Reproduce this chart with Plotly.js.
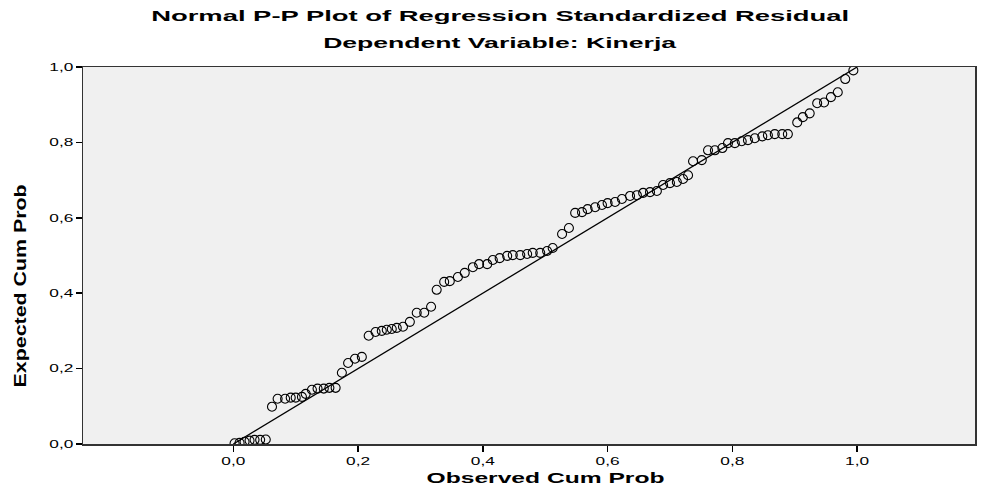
<!DOCTYPE html>
<html>
<head>
<meta charset="utf-8">
<script src="https://cdn.plot.ly/plotly-3.0.1.min.js"></script>
<style>html,body{margin:0;padding:0;background:#fff;}#chart{width:995px;height:488px;}</style>
</head>
<body>
<div id="chart"></div>
<script>
const titleLine1 = "Normal P-P Plot of Regression Standardized Residual";
const titleLine2 = "Dependent Variable: Kinerja";
const xTitle = "Observed Cum Prob";
const yTitle = "Expected Cum Prob";
const tickValues = [0, 0.2, 0.4, 0.6, 0.8, 1.0];

const observedCumProb = [
  0.002, 0.010, 0.018, 0.026, 0.034, 0.043, 0.052, 0.062, 0.071, 0.083,
  0.092, 0.100, 0.110, 0.116, 0.126, 0.135, 0.145, 0.154, 0.164, 0.174,
  0.184, 0.195, 0.206, 0.217, 0.228, 0.238, 0.246, 0.254, 0.262, 0.272,
  0.283, 0.294, 0.306, 0.317, 0.326, 0.338, 0.347, 0.360, 0.371, 0.384,
  0.394, 0.407, 0.416, 0.427, 0.439, 0.448, 0.460, 0.471, 0.480, 0.492,
  0.503, 0.512, 0.527, 0.538, 0.548, 0.559, 0.568, 0.580, 0.591, 0.600,
  0.612, 0.623, 0.636, 0.647, 0.657, 0.668, 0.679, 0.689, 0.700, 0.711,
  0.721, 0.729, 0.737, 0.751, 0.761, 0.772, 0.784, 0.793, 0.804, 0.815,
  0.825, 0.836, 0.848, 0.857, 0.868, 0.880, 0.889, 0.904, 0.913, 0.924,
  0.936, 0.947, 0.958, 0.969, 0.981, 0.994
];
const expectedCumProb = [
  0.002, 0.003, 0.006, 0.009, 0.011, 0.011, 0.012, 0.099, 0.120, 0.120,
  0.123, 0.123, 0.125, 0.133, 0.144, 0.147, 0.147, 0.149, 0.149, 0.189,
  0.215, 0.226, 0.231, 0.287, 0.297, 0.300, 0.303, 0.305, 0.308, 0.311,
  0.324, 0.348, 0.348, 0.364, 0.409, 0.430, 0.432, 0.443, 0.454, 0.469,
  0.477, 0.477, 0.488, 0.493, 0.499, 0.501, 0.501, 0.504, 0.507, 0.507,
  0.512, 0.520, 0.557, 0.573, 0.613, 0.615, 0.623, 0.628, 0.634, 0.639,
  0.642, 0.650, 0.658, 0.660, 0.666, 0.668, 0.671, 0.687, 0.692, 0.695,
  0.703, 0.713, 0.750, 0.753, 0.779, 0.779, 0.785, 0.798, 0.798, 0.803,
  0.806, 0.811, 0.816, 0.819, 0.822, 0.822, 0.822, 0.853, 0.867, 0.877,
  0.904, 0.906, 0.920, 0.933, 0.968, 0.991
];
const refLineX = [0, 1];
const refLineY = [0, 1];

const font = "Liberation Sans, Arial, sans-serif";
const traces = [
  {
    x: refLineX, y: refLineY, type: "scatter", mode: "lines",
    line: {color: "#000", width: 1.3}, hoverinfo: "skip", showlegend: false
  },
  {
    x: observedCumProb, y: expectedCumProb, type: "scatter", mode: "markers",
    marker: {symbol: "circle-open", size: 9, color: "#000", line: {width: 1.1, color: "#000"}},
    showlegend: false
  }
];

const layout = {
  width: 995, height: 488,
  margin: {l: 83, r: 20, t: 67, b: 44, pad: 0},
  paper_bgcolor: "#ffffff",
  plot_bgcolor: "#f0f0f0",
  separators: ",.",
  showlegend: false,
  font: {family: font, color: "#000", size: 12},
  xaxis: {
    range: [-0.241, 1.189], tickvals: tickValues, tickformat: ".1f",
    ticks: "outside", ticklen: 6, tickwidth: 1.5, tickcolor: "#000",
    showgrid: false, zeroline: false, showline: true, mirror: true,
    linecolor: "#333", linewidth: 1.5,
    tickfont: {family: font, size: 11, color: "#000"}
  },
  yaxis: {
    range: [0, 1], tickvals: tickValues, tickformat: ".1f",
    ticks: "outside", ticklen: 6, tickwidth: 1.5, tickcolor: "#000",
    showgrid: false, zeroline: false, showline: true, mirror: true,
    linecolor: "#333", linewidth: 1.5,
    tickfont: {family: font, size: 11, color: "#000"}
  },
  annotations: [
    {text: titleLine1, xref: "paper", yref: "paper", x: 0.468, y: 1, yshift: 52,
     xanchor: "center", yanchor: "middle", showarrow: false,
     font: {family: font, size: 15, color: "#000", weight: "bold"}},
    {text: titleLine2, xref: "paper", yref: "paper", x: 0.468, y: 1, yshift: 25,
     xanchor: "center", yanchor: "middle", showarrow: false,
     font: {family: font, size: 15, color: "#000", weight: "bold"}},
    {text: xTitle, xref: "x", yref: "paper", x: 0.5, y: 0, yshift: -33,
     xanchor: "center", yanchor: "middle", showarrow: false,
     font: {family: font, size: 15, color: "#000", weight: "bold"}},
    {text: yTitle, xref: "paper", yref: "y", x: 0, xshift: -62, y: 0.42,
     xanchor: "center", yanchor: "middle", textangle: -90, showarrow: false,
     font: {family: font, size: 17, color: "#000", weight: "bold"}}
  ]
};

// Horizontal stretch of the text, as in the reference rendering
const annotationWidths = [698, 353, 238, 203];
const tickLabelWidth = 24;

Plotly.newPlot("chart", traces, layout, {displayModeBar: false, staticPlot: true}).then(function (gd) {
  const stretch = function (el, w) {
    el.setAttribute("textLength", w);
    el.setAttribute("lengthAdjust", "spacingAndGlyphs");
  };
  gd.querySelectorAll(".annotation-text").forEach(function (el, i) {
    if (annotationWidths[i]) stretch(el, annotationWidths[i]);
  });
  gd.querySelectorAll(".xtick text, .ytick text").forEach(function (el) {
    stretch(el, tickLabelWidth);
  });
});
</script>
</body>
</html>
